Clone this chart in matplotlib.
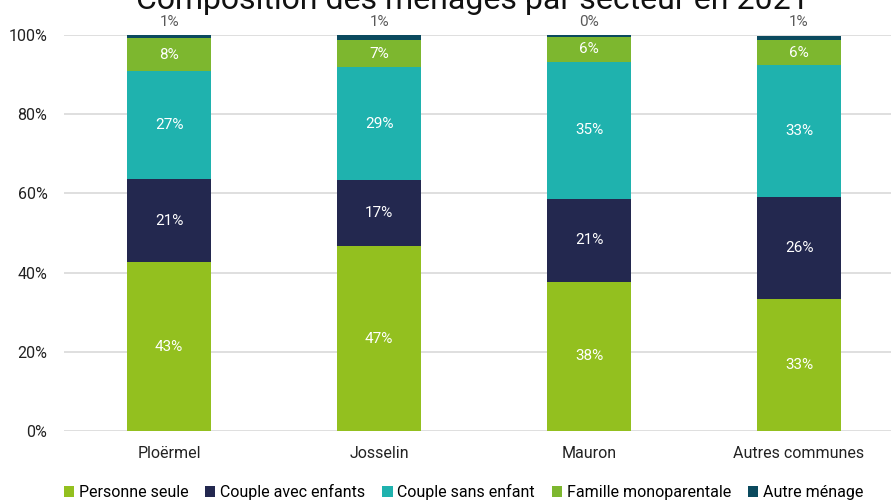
import numpy as np
import matplotlib.pyplot as plt

plt.rcParams['font.family'] = ['Roboto', 'DejaVu Sans']

secteurs = ['Ploërmel', 'Josselin', 'Mauron', 'Autres communes']
series = ['Personne seule', 'Couple avec enfants', 'Couple sans enfant',
          'Famille monoparentale', 'Autre ménage']
personne_seule = [42.6, 46.7, 37.7, 33.4]
couple_enfants = [21.1, 16.6, 21.0, 25.8]
couple_sans = [27.1, 28.6, 34.6, 33.1]
famille_mono = [8.4, 6.8, 6.3, 6.4]
autre = [0.8, 1.3, 0.4, 1.0]
colors = ['#93c01f', '#23284f', '#1fb2ae', '#7db72f', '#0b4a5e']

data = [personne_seule, couple_enfants, couple_sans, famille_mono, autre]

fig = plt.figure(figsize=(8.91, 5), dpi=100)
ax = fig.add_axes([0.072, 0.138, 0.928, 0.792])

x = np.arange(len(secteurs))
bottom = np.zeros(len(secteurs))
for vals, name, col in zip(data, series, colors):
    vals = np.array(vals)
    ax.bar(x, vals, 0.4, bottom=bottom, color=col, label=name, zorder=3)
    for xi, b, v in zip(x, bottom, vals):
        if name == 'Autre ménage':
            ax.text(xi, 101.6, f'{v:.0f}%', ha='center', va='bottom',
                    fontsize=11, color='#595959')
        else:
            ax.text(xi, b + v / 2, f'{v:.0f}%', ha='center', va='center',
                    fontsize=11, color='white', zorder=4)
    bottom += vals

ax.set_xlim(-0.5, 3.438)
ax.set_ylim(0, 100)
ax.set_yticks(range(0, 101, 20))
ax.set_yticklabels([f'{t}%' for t in range(0, 101, 20)])
ax.set_xticks(x)
ax.set_xticklabels(secteurs)
ax.tick_params(length=0, labelsize=11.5, colors='#222222')
ax.tick_params(axis='x', pad=11)
ax.tick_params(axis='y', pad=12)
ax.yaxis.grid(True, color='#d9d9d9', linewidth=1.2, zorder=0)
for s in ax.spines.values():
    s.set_visible(False)

fig.text(0.53, 0.982, 'Composition des ménages par secteur en 2021',
         ha='center', va='baseline', fontsize=23, color='#111111')

ax.legend(loc='center', bbox_to_anchor=(0.483, -0.155), ncol=5, frameon=False,
          fontsize=11.5, handlelength=0.65, handleheight=0.65, handletextpad=0.3,
          columnspacing=1.05, borderaxespad=0)

fig.savefig('out.png', dpi=100)
